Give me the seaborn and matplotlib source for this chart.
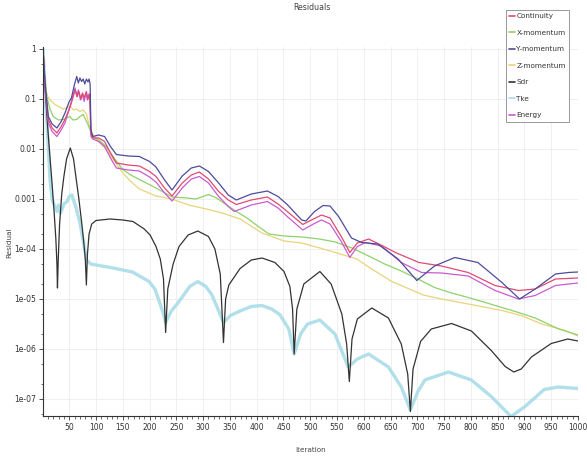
import numpy as np
import pandas as pd
import matplotlib
matplotlib.use("Agg")
import matplotlib.pyplot as plt
import seaborn as sns
from matplotlib import font_manager
from matplotlib.ticker import FixedLocator, MultipleLocator, NullFormatter, LogLocator
from matplotlib.lines import Line2D

# ---------------- data (iteration, log10 residual) ----------------
cont_iter = [1, 5, 11, 18, 27, 35, 42, 50, 54, 61, 65, 68, 72, 75, 78, 82, 85, 88, 90.5, 94, 105, 116, 127, 138, 160, 181, 200, 212, 228, 242, 261, 278, 293, 310, 329, 347, 362, 390, 420, 440, 457, 486, 506, 521, 537, 558, 574, 588, 609, 634, 659, 703, 745, 795, 845, 889, 920, 958, 1000]
cont_exp = [0, -0.75, -1.41, -1.58, -1.68, -1.55, -1.41, -1.2, -1.08, -0.82, -0.95, -0.85, -1.0, -0.88, -0.98, -0.85, -1.0, -0.9, -1.7, -1.78, -1.78, -1.85, -2.08, -2.28, -2.32, -2.34, -2.45, -2.55, -2.78, -2.94, -2.68, -2.52, -2.46, -2.6, -2.85, -3.02, -3.11, -3.02, -2.96, -3.1, -3.25, -3.51, -3.4, -3.32, -3.38, -3.75, -4.07, -3.88, -3.8, -3.93, -4.07, -4.27, -4.34, -4.47, -4.73, -4.83, -4.8, -4.6, -4.58]

xmom_iter = [1, 4, 8, 14, 20, 30, 39, 45, 51, 57, 64, 70, 76, 80, 85, 90, 94, 105, 119, 135, 150, 165, 181, 212, 242, 270, 286, 300, 310, 325, 341, 362, 382, 403, 423, 451, 485, 517, 547, 578, 609, 639, 670, 701, 732, 764, 795, 827, 858, 889, 920, 964, 1000]
xmom_exp = [0, -0.5, -0.95, -1.2, -1.35, -1.42, -1.41, -1.38, -1.35, -1.42, -1.41, -1.35, -1.31, -1.4, -1.51, -1.65, -1.75, -1.82, -1.95, -2.2, -2.41, -2.52, -2.61, -2.78, -2.96, -2.98, -3.0, -2.95, -2.91, -2.98, -3.1, -3.25, -3.38, -3.55, -3.7, -3.74, -3.76, -3.8, -3.86, -3.98, -4.14, -4.3, -4.44, -4.6, -4.77, -4.88, -4.97, -5.07, -5.17, -5.27, -5.38, -5.6, -5.72]

ymom_iter = [1, 5, 11, 18, 27, 35, 42, 50, 54, 60, 64, 67, 70, 73, 76, 79, 82, 85, 87, 89, 90.5, 94, 105, 116, 127, 138, 160, 181, 200, 212, 228, 242, 261, 278, 293, 310, 329, 347, 362, 390, 420, 440, 457, 484, 492, 508, 524, 537, 553, 577, 596, 626, 664, 699, 732, 770, 813, 858, 891, 920, 958, 982, 1000]
ymom_exp = [0, -0.7, -1.35, -1.5, -1.58, -1.45, -1.28, -1.05, -0.98, -0.7, -0.55, -0.68, -0.58, -0.65, -0.6, -0.7, -0.6, -0.66, -0.6, -0.7, -1.61, -1.75, -1.72, -1.75, -1.95, -2.11, -2.14, -2.15, -2.25, -2.36, -2.62, -2.82, -2.54, -2.38, -2.34, -2.45, -2.68, -2.92, -3.02, -2.9, -2.84, -2.95, -3.11, -3.42, -3.44, -3.25, -3.13, -3.14, -3.35, -3.78, -3.87, -3.9, -4.2, -4.63, -4.34, -4.17, -4.27, -4.67, -5.0, -4.8, -4.5, -4.47, -4.46]

zmom_iter = [1, 3, 6, 10, 14, 22, 30, 39, 46, 52, 58, 64, 70, 76, 82, 88, 92, 105, 119, 135, 150, 165, 181, 212, 242, 273, 306, 336, 369, 410, 451, 484, 518, 547, 587, 609, 652, 670, 711, 745, 795, 858, 894, 932, 976, 1000]
zmom_exp = [0, -0.4, -0.82, -0.95, -1.02, -1.1, -1.15, -1.2, -1.17, -1.15, -1.22, -1.2, -1.25, -1.22, -1.3, -1.55, -1.68, -1.85, -2.01, -2.25, -2.48, -2.65, -2.8, -2.94, -3.0, -3.12, -3.2, -3.28, -3.4, -3.68, -3.84, -3.88, -3.98, -4.07, -4.2, -4.36, -4.65, -4.73, -4.92, -5.0, -5.1, -5.23, -5.33, -5.5, -5.63, -5.74]

sdr_iter = [1, 5, 10, 15, 18, 22, 25, 27, 28, 29.5, 32, 36, 40, 45, 52, 58, 63, 68, 73, 77, 80, 82, 84, 87, 92, 100, 126, 150, 169, 190, 201, 212, 220, 226, 230, 234, 244, 255, 272, 290, 310, 322, 332, 338, 342, 348, 369, 390, 410, 434, 451, 462, 467, 470, 475, 488, 518, 539, 559, 568, 573, 578, 588, 615, 646, 670, 682, 687, 692, 706, 726, 764, 801, 838, 864, 880, 894, 913, 950, 981, 1000]
sdr_exp = [0, -0.8, -1.6, -2.3, -2.7, -3.3, -3.8, -4.3, -4.78, -4.2, -3.5, -2.9, -2.55, -2.2, -1.98, -2.2, -2.6, -3.0, -3.45, -3.85, -4.2, -4.72, -4.1, -3.7, -3.5, -3.43, -3.4, -3.42, -3.45, -3.6, -3.72, -3.95, -4.2, -4.6, -5.67, -4.8, -4.3, -3.95, -3.72, -3.64, -3.75, -4.0, -4.5, -5.87, -5.0, -4.72, -4.39, -4.22, -4.18, -4.27, -4.45, -4.75, -5.2, -6.1, -5.2, -4.7, -4.45, -4.7, -5.3, -5.9, -6.65, -5.8, -5.4, -5.18, -5.38, -5.9, -6.5, -7.25, -6.4, -5.85, -5.6, -5.49, -5.64, -6.03, -6.35, -6.46, -6.4, -6.16, -5.89, -5.8, -5.84]

tke_iter = [1, 5, 10, 14, 18, 23, 27, 30, 34, 40, 46, 50, 55, 62, 70, 78, 82, 90, 100, 132, 168, 199, 210, 218, 226, 230, 240, 255, 275, 290, 305, 316, 332, 338, 351, 369, 390, 410, 428, 443, 460, 470, 482, 495, 518, 546, 563, 571, 588, 609, 646, 670, 687, 701, 714, 758, 801, 838, 875, 901, 937, 963, 1000]
tke_exp = [0, -0.8, -1.8, -2.6, -3.0, -3.15, -3.25, -3.12, -3.28, -3.1, -3.05, -2.95, -2.92, -3.15, -3.48, -3.95, -4.22, -4.3, -4.32, -4.38, -4.46, -4.65, -4.8, -5.05, -5.3, -5.47, -5.25, -5.05, -4.75, -4.65, -4.75, -4.91, -5.31, -5.47, -5.33, -5.24, -5.15, -5.13, -5.2, -5.31, -5.6, -6.1, -5.7, -5.5, -5.42, -5.7, -6.15, -6.36, -6.2, -6.1, -6.36, -6.76, -7.22, -6.85, -6.62, -6.46, -6.62, -6.95, -7.35, -7.15, -6.81, -6.76, -6.79]

energy_iter = [1, 5, 11, 18, 27, 35, 42, 50, 54, 61, 64, 67, 71, 74, 78, 81, 84, 87, 89, 90.5, 94, 105, 116, 127, 138, 160, 181, 200, 212, 228, 242, 261, 278, 293, 310, 329, 347, 358, 390, 420, 440, 457, 486, 506, 521, 537, 558, 574, 588, 603, 633, 670, 708, 745, 795, 845, 889, 920, 958, 1000]
energy_exp = [0, -0.8, -1.48, -1.65, -1.75, -1.62, -1.48, -1.2, -1.05, -0.78, -0.95, -0.82, -1.02, -0.9, -1.05, -0.88, -1.02, -0.9, -1.0, -1.75, -1.8, -1.85, -1.95, -2.18, -2.38, -2.42, -2.44, -2.56, -2.66, -2.88, -3.04, -2.78, -2.6, -2.55, -2.68, -2.95, -3.15, -3.25, -3.12, -3.05, -3.18, -3.35, -3.62, -3.5, -3.42, -3.5, -3.85, -4.17, -3.95, -3.87, -3.94, -4.27, -4.47, -4.48, -4.54, -4.83, -5.0, -4.93, -4.73, -4.68]

series_names = ["Continuity", "X-momentum", "Y-momentum", "Z-momentum", "Sdr", "Tke", "Energy"]
series_colors = ["#e04a72", "#8fd16a", "#4c4c9c", "#e9d37a", "#333333", "#a9dce8", "#c95bd0"]

xtick_values = list(range(50, 1001, 50))
ytick_values = [1, 0.1, 0.01, 0.001, 1e-4, 1e-5, 1e-6, 1e-7]
ytick_labels = ["1", "0.1", "0.01", "0.001", "1e-04", "1e-05", "1e-06", "1e-07"]

series_iters = [cont_iter, xmom_iter, ymom_iter, zmom_iter, sdr_iter, tke_iter, energy_iter]
series_exps = [cont_exp, xmom_exp, ymom_exp, zmom_exp, sdr_exp, tke_exp, energy_exp]

frames = []
for name, it, ex in zip(series_names, series_iters, series_exps):
    frames.append(pd.DataFrame({"Iteration": it, "Residual": np.power(10.0, np.array(ex)), "series": name}))
df = pd.concat(frames, ignore_index=True)

# ---------------- font choice: a narrow face if one is installed ----------------
installed = {f.name for f in font_manager.fontManager.ttflist}
narrow = [n for n in ["Liberation Sans Narrow", "DejaVu Sans Condensed"] if n in installed]
font_list = narrow + ["DejaVu Sans"]
txt_size = 6 if narrow else 5.2

# ---------------- plot ----------------
sns.set_theme(style="white")
plt.rcParams["font.family"] = font_list

W, H = 587, 457
fig = plt.figure(figsize=(W / 100, H / 100), dpi=100)
ax = fig.add_axes([43 / W, 1 - 416 / H, (578 - 43) / W, (416 - 47) / H])

draw_order = ["Tke", "Sdr", "Z-momentum", "X-momentum", "Energy", "Continuity", "Y-momentum"]
for name in draw_order:
    i = series_names.index(name)
    sub = df[df["series"] == name]
    lw = 2.4 if name == "Tke" else 0.9
    sns.lineplot(data=sub, x="Iteration", y="Residual", ax=ax, color=series_colors[i],
                 linewidth=lw, alpha=0.9 if name == "Tke" else 1.0, estimator=None,
                 sort=False, legend=False)

ax.set_yscale("log")
ax.set_xlim(1, 1000)
ax.set_ylim(10 ** -7.34, 10 ** 0.04)

ax.xaxis.set_major_locator(FixedLocator(xtick_values))
ax.set_xticklabels([str(v) for v in xtick_values])
ax.xaxis.set_minor_locator(MultipleLocator(10))
ax.yaxis.set_major_locator(FixedLocator(ytick_values))
ax.set_yticklabels(ytick_labels)
ax.yaxis.set_minor_locator(LogLocator(base=10, subs=(2, 5)))
ax.yaxis.set_minor_formatter(NullFormatter())

ax.tick_params(axis="both", which="major", labelsize=txt_size + 0.3, length=3, width=0.6,
               direction="out", colors="#333333", pad=2, bottom=True, left=True)
ax.tick_params(axis="both", which="minor", length=1.8, width=0.5, direction="out",
               colors="#333333", bottom=True, left=True)

ax.grid(True, which="major", color="#ececec", linewidth=0.6)
for s in ["top", "right"]:
    ax.spines[s].set_visible(False)
for s in ["left", "bottom"]:
    ax.spines[s].set_color("#333333")
    ax.spines[s].set_linewidth(0.8)

ax.set_xlabel("Iteration", fontsize=txt_size, color="#444444")
ax.set_ylabel("Residual", fontsize=txt_size, color="#444444")
ax.xaxis.set_label_coords(0.5, -0.085)
ax.yaxis.set_label_coords(-0.058, 0.47)

fig.text(312 / W, 1 - 8 / H, "Residuals", ha="center", va="center", fontsize=txt_size + 0.5,
         color="#444444")

handles = [Line2D([0], [0], color=c, lw=1.2) for c in series_colors]
leg = fig.legend(handles, series_names, loc="upper left",
                 bbox_to_anchor=(506 / W, 1 - 10 / H), fontsize=txt_size,
                 frameon=True, fancybox=False, framealpha=1, edgecolor="#888888",
                 handlelength=0.8, handletextpad=0.2, labelspacing=1.45,
                 borderpad=0.45, borderaxespad=0)
leg.get_frame().set_linewidth(0.6)
for t in leg.get_texts():
    t.set_color("#333333")

fig.savefig("out.png", dpi=100)
